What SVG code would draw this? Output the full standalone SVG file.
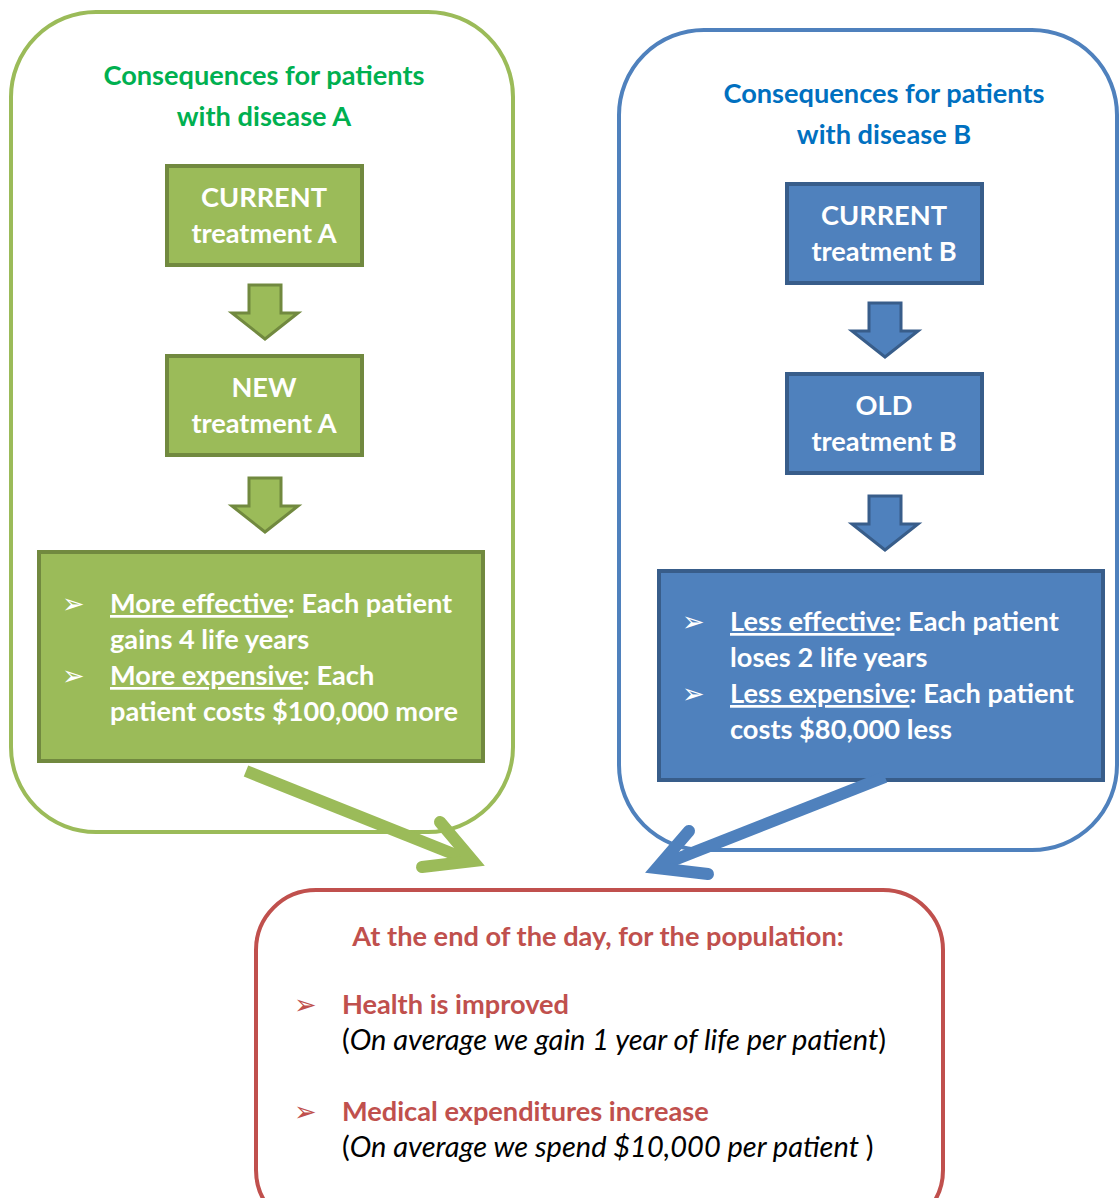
<svg xmlns="http://www.w3.org/2000/svg" width="1119" height="1198" viewBox="0 0 1119 1198">
<style>
text{font-family:Lato,"Open Sans","Liberation Sans",sans-serif;font-weight:bold}
.t{font-size:27.2px}
.g{fill:#00B050}
.b{fill:#0070C0}
.w{fill:#fff}
.r{fill:#C0504D}
.k{fill:#000;font-weight:normal;font-size:29px}
.gbox{fill:#9BBB59;stroke:#71893F;stroke-width:4}
.bbox{fill:#4F81BD;stroke:#385D8A;stroke-width:4}
.bul{font-family:"DejaVu Sans",sans-serif;font-weight:normal;font-size:27px}
.u{text-decoration:underline}
</style>
<g id="groupA">
<rect x="11" y="12" width="502" height="820" rx="85" fill="#fff" stroke="#9BBB59" stroke-width="4"/>
<text class="t g" x="264" y="85" text-anchor="middle">Consequences for patients</text>
<text class="t g" x="264" y="126" text-anchor="middle">with disease A</text>
</g>
<g id="groupB">
<rect x="619" y="30" width="498" height="820" rx="85" fill="#fff" stroke="#4F81BD" stroke-width="4"/>
<text class="t b" x="884" y="103" text-anchor="middle">Consequences for patients</text>
<text class="t b" x="884" y="144" text-anchor="middle">with disease B</text>
</g>
<g id="curA">
<rect class="gbox" x="167" y="166" width="195" height="99"/>
<text class="t w" x="264" y="207" text-anchor="middle">CURRENT</text>
<text class="t w" x="264" y="243" text-anchor="middle">treatment A</text>
</g>
<g id="newA">
<rect class="gbox" x="167" y="356" width="195" height="99"/>
<text class="t w" x="264" y="397" text-anchor="middle">NEW</text>
<text class="t w" x="264" y="433" text-anchor="middle">treatment A</text>
</g>
<g id="resA">
<rect class="gbox" x="39" y="552" width="444" height="209"/>
<text class="bul w" x="62" y="613">➢</text>
<text class="t w" x="110" y="613"><tspan class="u">More effective</tspan>: Each patient</text>
<text class="t w" x="110" y="649">gains 4 life years</text>
<text class="bul w" x="62" y="685">➢</text>
<text class="t w" x="110" y="685"><tspan class="u">More expensive</tspan>: Each</text>
<text class="t w" x="110" y="721">patient costs $100,000 more</text>
</g>
<g id="curB">
<rect class="bbox" x="787" y="184" width="195" height="99"/>
<text class="t w" x="884" y="225" text-anchor="middle">CURRENT</text>
<text class="t w" x="884" y="261" text-anchor="middle">treatment B</text>
</g>
<g id="oldB">
<rect class="bbox" x="787" y="374" width="195" height="99"/>
<text class="t w" x="884" y="415" text-anchor="middle">OLD</text>
<text class="t w" x="884" y="451" text-anchor="middle">treatment B</text>
</g>
<g id="resB">
<rect class="bbox" x="659" y="571" width="444" height="209"/>
<text class="bul w" x="682" y="631">➢</text>
<text class="t w" x="730" y="631"><tspan class="u">Less effective</tspan>: Each patient</text>
<text class="t w" x="730" y="667">loses 2 life years</text>
<text class="bul w" x="682" y="703">➢</text>
<text class="t w" x="730" y="703"><tspan class="u">Less expensive</tspan>: Each patient</text>
<text class="t w" x="730" y="739">costs $80,000 less</text>
</g>
<g id="result">
<rect x="256" y="890" width="687" height="340" rx="60" fill="#fff" stroke="#C0504D" stroke-width="4"/>
<text class="t r" x="598" y="946" text-anchor="middle">At the end of the day, for the population:</text>
<text class="bul r" x="294" y="1014">➢</text>
<text class="t r" x="342" y="1014">Health is improved</text>
<text class="k" x="342" y="1050">(<tspan font-style="italic">On average we gain 1 year of life per patient</tspan>)</text>
<text class="bul r" x="294" y="1121">➢</text>
<text class="t r" x="342" y="1121">Medical expenditures increase</text>
<text class="k" x="342" y="1157">(<tspan font-style="italic">On average we spend $10,000 per patient </tspan>)</text>
</g>
<g id="connectors">
<g fill="#9BBB59" stroke="#71893F" stroke-width="3" stroke-linejoin="miter">
<path d="M249,285 H281 V313 H298 L265,339 L232,313 H249 Z"/>
<path d="M249,478 H281 V506 H298 L265,532 L232,506 H249 Z"/>
</g>
<g fill="#4F81BD" stroke="#385D8A" stroke-width="3">
<path d="M869,303 H901 V331 H918 L885,357 L852,331 H869 Z"/>
<path d="M869,496 H901 V524 H918 L885,550 L852,524 H869 Z"/>
</g>
<g fill="none" stroke-width="12" stroke-linecap="round" stroke-linejoin="miter">
<path d="M246,771 L466,859" stroke="#9BBB59" stroke-linecap="butt"/>
<path d="M440,822 L473,861 L422,867" stroke="#9BBB59"/>
<path d="M885,777 L664,864" stroke="#4F81BD" stroke-linecap="butt"/>
<path d="M689,831 L657,868 L708,874" stroke="#4F81BD"/>
</g>
</g>
</svg>
